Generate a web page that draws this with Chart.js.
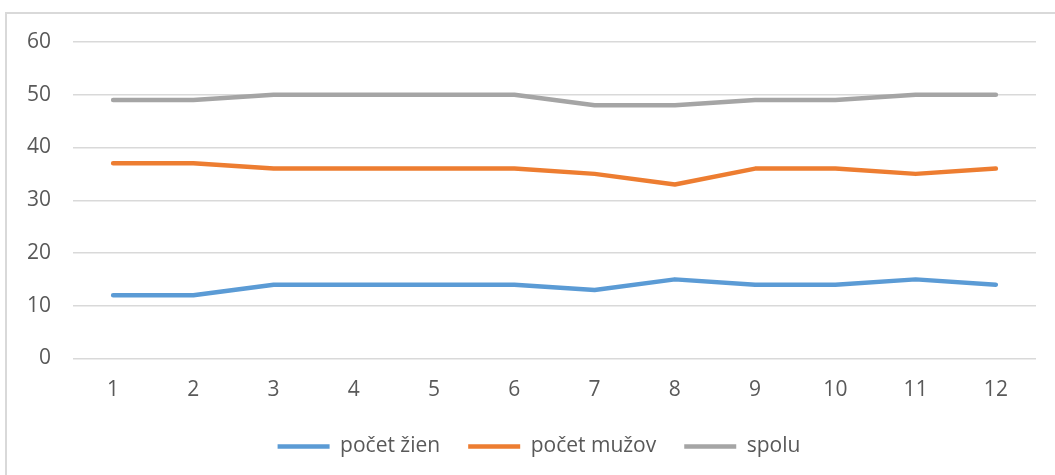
<!DOCTYPE html>
<html>
<head>
<meta charset="utf-8">
<script src="https://cdn.jsdelivr.net/npm/chart.js@4.4.1/dist/chart.umd.min.js"></script>
<style>
html,body{margin:0;padding:0;background:#fff;}
#frame{position:absolute;left:5px;top:12px;width:1060px;height:470px;border:2px solid #d9d9d9;box-sizing:border-box;}
#wrap{position:absolute;left:0;top:0;width:1055px;height:475px;}
</style>
</head>
<body>
<div id="frame"></div>
<div id="wrap"><canvas id="c" width="1055" height="475"></canvas></div>
<script>
const categories = ['1','2','3','4','5','6','7','8','9','10','11','12'];
const zeny = [12,12,14,14,14,14,13,15,14,14,15,14];
const muzi = [37,37,36,36,36,36,35,33,36,36,35,36];
const spolu = [49,49,50,50,50,50,48,48,49,49,50,50];
const seriesNames = ['počet žien','počet mužov','spolu'];
const colors = ['#5B9BD5','#ED7D31','#A5A5A5'];
const yTicks = [0,10,20,30,40,50,60];

const FONT = "'Open Sans', 'Noto Sans', sans-serif";
const TXT = '#595959';

function ds(label, data, color){
  return {label, data, borderColor: color, backgroundColor: color, borderWidth: 4.5,
    pointRadius: 0, pointHoverRadius: 0, tension: 0, borderCapStyle: 'round', borderJoinStyle: 'round', fill: false};
}

const shiftLegend = {
  id: 'shiftLegend',
  afterLayout(chart){
    const l = chart.legend;
    if (l) { l.left += 21; l.right += 21; }
  }
};

new Chart(document.getElementById('c'), {
  type: 'line',
  data: {
    labels: categories,
    datasets: [ds(seriesNames[0], zeny, colors[0]), ds(seriesNames[1], muzi, colors[1]), ds(seriesNames[2], spolu, colors[2])]
  },
  plugins: [shiftLegend],
  options: {
    responsive: false,
    animation: false,
    devicePixelRatio: 1,
    layout: {padding: {top: 42, left: 0, right: 19, bottom: 8}},
    plugins: {
      tooltip: {enabled: false},
      legend: {
        position: 'bottom',
        labels: {usePointStyle: true, pointStyle: 'line', pointStyleWidth: 52, boxHeight: 4,
          padding: 28, color: TXT, font: {family: FONT, size: 21}}
      }
    },
    scales: {
      x: {
        offset: true,
        grid: {display: false, drawTicks: false},
        border: {display: false},
        ticks: {color: TXT, font: {family: FONT, size: 21}, padding: 19, maxRotation: 0},
        afterFit(s){ s.height = 49.5; }
      },
      y: {
        min: 0, max: 60,
        afterBuildTicks(s){ s.ticks = yTicks.map(v => ({value: v})); },
        grid: {color: '#d9d9d9', lineWidth: 1.5, drawTicks: false},
        border: {display: false},
        ticks: {color: TXT, font: {family: FONT, size: 21}, padding: 22},
        afterFit(s){ s.width = 73; }
      }
    }
  }
});
</script>
</body>
</html>
